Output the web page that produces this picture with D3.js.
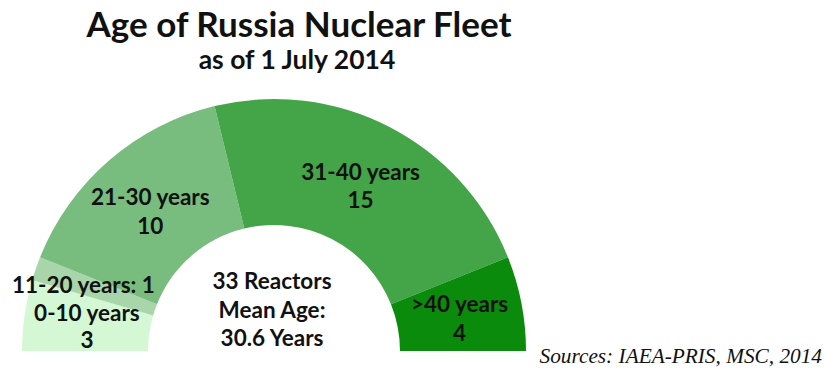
<!DOCTYPE html>
<html>
<head>
<meta charset="utf-8">
<script src="https://cdn.jsdelivr.net/npm/d3@7"></script>
<style>
  html, body { margin: 0; padding: 0; background: #fff; }
  svg { display: block; }
</style>
</head>
<body>
<svg id="chart" width="824" height="374"></svg>
<script>
// Age bands of the Russian reactor fleet and the number of reactors in each
const ageBands = ["0-10 years", "11-20 years", "21-30 years", "31-40 years", ">40 years"];
const reactorCounts = [3, 1, 10, 15, 4];
const bandColors = ["#d3f8d3", "#a9d5aa", "#78bd7e", "#43a547", "#0a8b0c"];
// Label text shown in each band (line 1 / line 2)
const bandLabels = [
  ["0-10 years", "3"],
  ["11-20 years: 1"],
  ["21-30 years", "10"],
  ["31-40 years", "15"],
  [">40 years", "4"]
];
const centerLines = ["33 Reactors", "Mean Age:", "30.6 Years"];
const titleText = "Age of Russia Nuclear Fleet";
const subtitleText = "as of 1 July 2014";
const sourceText = "Sources: IAEA-PRIS, MSC, 2014";

const svg = d3.select("#chart");
const cx = 274, cy = 351;
const innerR = 126, outerR = 252;
const labelFont = "Lato, 'Open Sans', sans-serif";
const labelSize = 22.5;

const data = ageBands.map((band, i) => ({ band, value: reactorCounts[i], color: bandColors[i], lines: bandLabels[i] }));

const pie = d3.pie()
  .value(d => d.value)
  .sort(null)
  .startAngle(-Math.PI / 2)
  .endAngle(Math.PI / 2);

const arc = d3.arc().innerRadius(innerR).outerRadius(outerR);

const g = svg.append("g").attr("transform", `translate(${cx},${cy})`);
const arcs = pie(data);

g.selectAll("path.slice")
  .data(arcs)
  .join("path")
  .attr("class", "slice")
  .attr("d", arc)
  .attr("fill", d => d.data.color);

// Band labels, stacked around each slice's centroid
const lineH = 28.5;
g.selectAll("text.band")
  .data(arcs)
  .join("text")
  .attr("class", "band")
  .attr("font-family", labelFont)
  .attr("font-weight", 700)
  .attr("font-size", labelSize)
  .attr("fill", "#111")
  .attr("text-anchor", "middle")
  .each(function (d) {
    const [x, y] = arc.centroid(d);
    const n = d.data.lines.length;
    // the thin 11-20 slice carries its label slightly left and above
    const xOff = n === 1 ? -12 : 0;
    const yOff = n === 1 ? -3.8 : (d.index === 0 ? 2.5 : 3.3);
    const step = d.index === 0 ? 27 : lineH;
    d3.select(this).selectAll("tspan")
      .data(d.data.lines)
      .join("tspan")
      .attr("x", x + xOff)
      .attr("y", (l, i) => y + yOff + (i - (n - 1) / 2) * step)
      .attr("dy", "0.35em")
      .text(l => l);
  });

// Summary in the hole of the half-donut
g.append("text")
  .attr("font-family", labelFont)
  .attr("font-weight", 700)
  .attr("font-size", labelSize)
  .attr("fill", "#111")
  .attr("text-anchor", "middle")
  .selectAll("tspan")
  .data(centerLines)
  .join("tspan")
  .attr("x", -2)
  .attr("y", (l, i) => -69.6 + i * 28.4)
  .attr("dy", "0.35em")
  .text(l => l);

// Titles
svg.append("text")
  .attr("x", 299).attr("y", 37)
  .attr("text-anchor", "middle")
  .attr("font-family", labelFont)
  .attr("font-weight", 700)
  .attr("font-size", 35)
  .attr("fill", "#111")
  .text(titleText);

svg.append("text")
  .attr("x", 297).attr("y", 69)
  .attr("text-anchor", "middle")
  .attr("font-family", labelFont)
  .attr("font-weight", 700)
  .attr("font-size", 26.5)
  .attr("fill", "#111")
  .text(subtitleText);

// Source note
svg.append("text")
  .attr("x", 822).attr("y", 363)
  .attr("text-anchor", "end")
  .attr("font-family", "'Liberation Serif', 'Times New Roman', serif")
  .attr("font-style", "italic")
  .attr("font-size", 21.3)
  .attr("fill", "#111")
  .text(sourceText);
</script>
</body>
</html>
